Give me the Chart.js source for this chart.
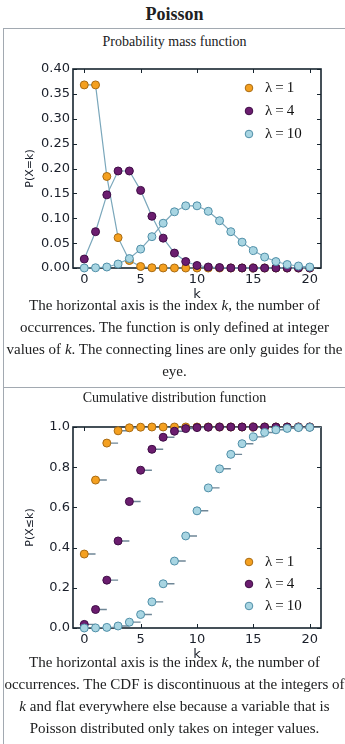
<!DOCTYPE html>
<html>
<head>
<meta charset="utf-8">
<script src="https://cdn.jsdelivr.net/npm/chart.js@4.4.1/dist/chart.umd.min.js"></script>
<style>
  body { margin: 0; background: #fff; width: 345px; height: 744px; overflow: hidden; position: relative;
         font-family: "Liberation Serif", "Times New Roman", serif; color: #202122; }
  .rule { position: absolute; left: 3px; right: 0; height: 1px; background: #a2a9b1; }
  .side { position: absolute; left: 3px; top: 28px; bottom: 0; width: 1px; background: #a2a9b1; }
  .txt { position: absolute; left: 4px; width: 341px; text-align: center; white-space: nowrap; }
  .title { top: 4px; font-size: 18px; font-weight: bold; line-height: 20px; }
  .hd { font-size: 14px; line-height: 20px; }
  .cap { font-size: 15px; line-height: 22px; }
  canvas { position: absolute; left: 0; }
</style>
</head>
<body>
<div class="side"></div>
<div class="rule" style="top:28px"></div>
<div class="rule" style="top:387px"></div>
<div class="txt title">Poisson</div>
<div class="txt hd" style="top:32px">Probability mass function</div>
<canvas id="pmf" width="345" height="247" style="top:55px"></canvas>
<div class="txt cap" style="top:294px">The horizontal axis is the index <i>k</i>, the number of<br>occurrences. The function is only defined at integer<br>values of <i>k</i>. The connecting lines are only guides for the<br>eye.</div>
<div class="txt hd" style="top:388px">Cumulative distribution function</div>
<canvas id="cdf" width="345" height="252" style="top:410px"></canvas>
<div class="txt cap" style="top:651px">The horizontal axis is the index <i>k</i>, the number of<br>occurrences. The CDF is discontinuous at the integers of<br><i>k</i> and flat everywhere else because a variable that is<br>Poisson distributed only takes on integer values.</div>
<script>
const ks = [0, 1, 2, 3, 4, 5, 6, 7, 8, 9, 10, 11, 12, 13, 14, 15, 16, 17, 18, 19, 20];
const xTicks = [0, 5, 10, 15, 20];
const pmfTicks = [0, 0.05, 0.10, 0.15, 0.20, 0.25, 0.30, 0.35, 0.40];
const cdfTicks = [0, 0.2, 0.4, 0.6, 0.8, 1.0];
const labels = ["λ\u2009=\u20091", "λ\u2009=\u20094", "λ\u2009=\u200910"];

const pmf1 = [0.368, 0.368, 0.184, 0.061, 0.015, 0.003, 0.0005, 0.0001, 0, 0, 0, 0, 0, 0, 0, 0, 0, 0, 0, 0, 0];
const pmf4 = [0.018, 0.073, 0.147, 0.195, 0.195, 0.156, 0.104, 0.060, 0.030, 0.013, 0.005, 0.002, 0.001, 0.0002, 0.0001, 0, 0, 0, 0, 0, 0];
const pmf10 = [0.00005, 0.0005, 0.002, 0.008, 0.019, 0.038, 0.063, 0.090, 0.113, 0.125, 0.125, 0.114, 0.095, 0.073, 0.052, 0.035, 0.022, 0.013, 0.007, 0.004, 0.002];

const cdf1 = [0.368, 0.736, 0.920, 0.981, 0.996, 0.999, 1, 1, 1, 1, 1, 1, 1, 1, 1, 1, 1, 1, 1, 1, 1];
const cdf4 = [0.018, 0.092, 0.238, 0.433, 0.629, 0.785, 0.889, 0.949, 0.979, 0.992, 0.997, 0.999, 1, 1, 1, 1, 1, 1, 1, 1, 1];
const cdf10 = [0.00005, 0.0005, 0.003, 0.010, 0.029, 0.067, 0.130, 0.220, 0.333, 0.458, 0.583, 0.697, 0.792, 0.864, 0.917, 0.951, 0.973, 0.986, 0.993, 0.997, 0.998];

const fills = ["#f4a020", "#6b1d6f", "#a8d5e2"];
const edges = ["#a86a12", "#3e0c45", "#4f8ea7"];
const ink = "#1a1f2a";
const spine = "#17252f";

const pts = (ys) => ks.map((k, i) => ({ x: k, y: ys[i] }));
const steps = (ys) => ks.flatMap((k, i) => [{ x: k, y: ys[i] }, { x: k + 1, y: ys[i] }, { x: k + 1, y: null }]);

const frame = {
  id: "frame",
  beforeDatasetsDraw(chart) {
    const { ctx, chartArea: a, scales } = chart;
    ctx.save();
    ctx.strokeStyle = spine;
    ctx.lineWidth = 1;
    scales.x.ticks.forEach((t) => {
      const px = Math.round(scales.x.getPixelForValue(t.value)) + 0.5;
      ctx.beginPath();
      ctx.moveTo(px, a.bottom); ctx.lineTo(px, a.bottom - 4);
      ctx.moveTo(px, a.top); ctx.lineTo(px, a.top + 4);
      ctx.stroke();
    });
    scales.y.ticks.forEach((t) => {
      const py = Math.round(scales.y.getPixelForValue(t.value)) + 0.5;
      ctx.beginPath();
      ctx.moveTo(a.left, py); ctx.lineTo(a.left + 4, py);
      ctx.moveTo(a.right, py); ctx.lineTo(a.right - 4, py);
      ctx.stroke();
    });
    ctx.lineWidth = 1.6;
    ctx.strokeRect(a.left, a.top, a.right - a.left, a.bottom - a.top);
    ctx.restore();
  }
};

const lambdaLegend = {
  id: "lambdaLegend",
  afterDatasetsDraw(chart, args, opts) {
    const ctx = chart.ctx;
    ctx.save();
    ctx.font = "15px 'Liberation Serif', serif";
    ctx.textBaseline = "middle";
    chart.data.datasets.filter((d) => d.label).forEach((d, i) => {
      const y = opts.y + i * opts.gap;
      ctx.beginPath();
      ctx.arc(opts.x, y, 3.8, 0, Math.PI * 2);
      ctx.fillStyle = d.pointBackgroundColor;
      ctx.fill();
      ctx.lineWidth = 1;
      ctx.strokeStyle = d.pointBorderColor;
      ctx.stroke();
      ctx.fillStyle = "#111";
      ctx.fillText(d.label, opts.x + 16, y);
    });
    ctx.restore();
  }
};

function markerSet(i, ys, lineColor) {
  return {
    label: labels[i],
    data: pts(ys),
    order: 3 - i,
    borderColor: lineColor,
    borderWidth: lineColor ? 1.2 : 0,
    showLine: !!lineColor,
    pointRadius: 4,
    pointBorderWidth: 1,
    pointBackgroundColor: fills[i],
    pointBorderColor: edges[i],
    clip: false
  };
}

function stepSet(i, ys) {
  return {
    data: steps(ys),
    order: 10 + i,
    borderColor: "#6f8797",
    borderWidth: 1.4,
    pointRadius: 0,
    spanGaps: false
  };
}

function makeChart(id, datasets, yTicks, digits, yTitle, padTop, xHeight, legend) {
  const font = { family: "'DejaVu Sans', sans-serif", size: 13 };
  return new Chart(document.getElementById(id), {
    type: "line",
    data: { datasets },
    options: {
      responsive: false,
      animation: false,
      devicePixelRatio: 1,
      layout: { padding: { top: padTop, right: 24, left: 0, bottom: 0 } },
      plugins: { legend: { display: false }, tooltip: { enabled: false }, lambdaLegend: legend },
      scales: {
        x: {
          type: "linear", min: -1, max: 21,
          grid: { display: false, drawTicks: false }, border: { display: false },
          afterBuildTicks: (s) => { s.ticks = xTicks.map((v) => ({ value: v })); },
          afterFit: (s) => { s.height = xHeight; },
          ticks: { padding: 4, color: ink, font, maxRotation: 0 },
          title: { display: true, text: "k", color: ink, font, padding: 0 }
        },
        y: {
          type: "linear", min: 0, max: yTicks[yTicks.length - 1],
          grid: { display: false, drawTicks: false }, border: { display: false },
          afterBuildTicks: (s) => { s.ticks = yTicks.map((v) => ({ value: v })); },
          afterFit: (s) => { s.width = 73; },
          ticks: { padding: 3, color: ink, font, callback: (v) => Number(v).toFixed(digits) },
          title: { display: true, text: yTitle, color: ink, font: { family: "'DejaVu Sans', sans-serif", size: 11 }, padding: { top: 24, bottom: 0 } }
        }
      }
    },
    plugins: [frame, lambdaLegend]
  });
}

const lineColor = "#7aa7bb";
makeChart("pmf", [
  markerSet(0, pmf1, lineColor),
  markerSet(1, pmf4, lineColor),
  markerSet(2, pmf10, lineColor)
], pmfTicks, 2, "P(X=k)", 14, 34, { x: 249, y: 33, gap: 23 });

makeChart("cdf", [
  markerSet(0, cdf1, null),
  markerSet(1, cdf4, null),
  markerSet(2, cdf10, null),
  stepSet(0, cdf1),
  stepSet(1, cdf4),
  stepSet(2, cdf10)
], cdfTicks, 1, "P(X≤k)", 17, 34, { x: 249, y: 152, gap: 22 });
</script>
</body>
</html>
